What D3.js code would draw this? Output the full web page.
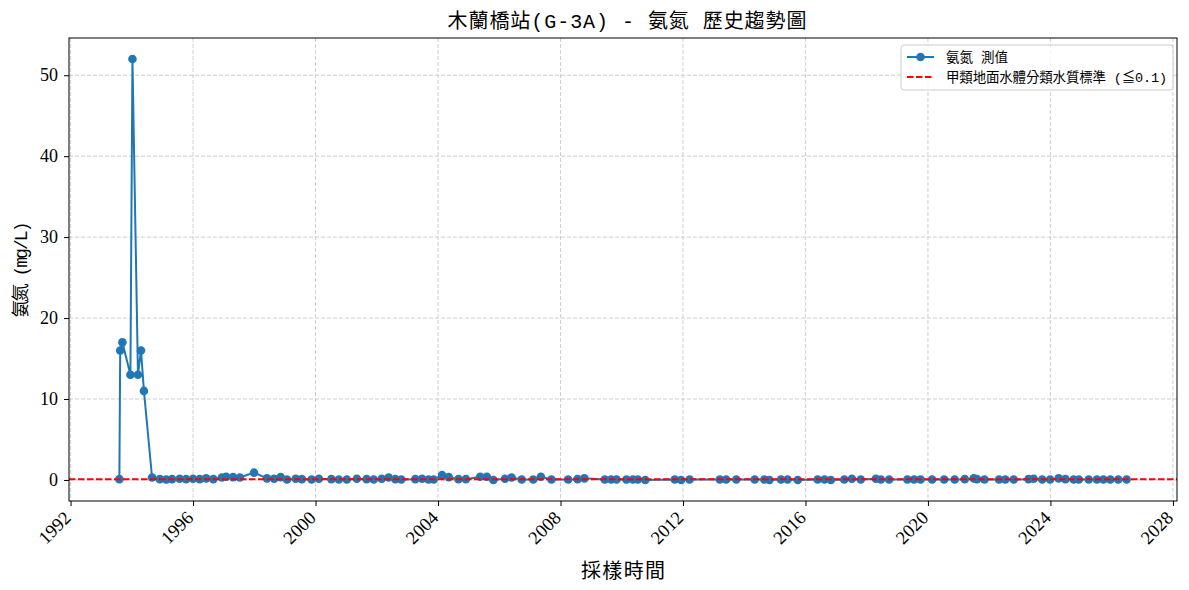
<!DOCTYPE html>
<html>
<head>
<meta charset="utf-8">
<script src="https://cdnjs.cloudflare.com/ajax/libs/d3/7.8.5/d3.min.js"></script>
<style>
  body { margin: 0; background: #fff; }
  svg { font-family: "Liberation Serif", "Noto Sans CJK TC", serif; }
  .cjk { font-family: "Liberation Mono", "Noto Sans CJK TC", monospace; }
</style>
</head>
<body>
<div id="chart"></div>
<script>
// Sampling dates and ammonia readings (mg/L)
const sampleDates = [
    "1993-08-05", "1993-08-15", "1993-09-10", "1993-12-15", "1994-01-08", "1994-03-15", "1994-04-20", "1994-05-25",
    "1994-08-30", "1994-12-01", "1995-02-15", "1995-04-25", "1995-07-25", "1995-10-10", "1996-01-01", "1996-03-20",
    "1996-06-05", "1996-08-30", "1996-12-10", "1997-01-30", "1997-04-22", "1997-07-12", "1997-12-28", "1998-06-01",
    "1998-08-25", "1998-11-10", "1999-01-25", "1999-05-10", "1999-07-22", "1999-11-15", "2000-02-10", "2000-07-08",
    "2000-10-05", "2001-01-08", "2001-05-08", "2001-09-01", "2001-11-25", "2002-03-01", "2002-05-22", "2002-08-10",
    "2002-10-20", "2003-04-05", "2003-06-25", "2003-09-10", "2003-11-10", "2004-02-18", "2004-05-08", "2004-09-01",
    "2004-11-28", "2005-05-18", "2005-08-05", "2005-10-22", "2006-03-10", "2006-05-28", "2006-09-25", "2007-02-10",
    "2007-05-12", "2007-09-15", "2008-04-01", "2008-07-22", "2008-10-12", "2009-06-12", "2009-08-28", "2009-10-30",
    "2010-02-25", "2010-05-15", "2010-07-12", "2010-10-08", "2011-09-25", "2011-12-10", "2012-03-20", "2013-03-15",
    "2013-05-30", "2013-09-28", "2014-05-05", "2014-08-28", "2014-10-28", "2015-03-15", "2015-06-02", "2015-10-01",
    "2016-05-25", "2016-08-15", "2016-10-30", "2017-04-08", "2017-07-08", "2017-10-22", "2018-04-20", "2018-06-18",
    "2018-09-25", "2019-05-01", "2019-07-20", "2019-10-05", "2020-02-20", "2020-07-12", "2020-11-15", "2021-03-15",
    "2021-07-01", "2021-08-08", "2021-11-05", "2022-04-28", "2022-07-12", "2022-10-20", "2023-04-15", "2023-06-15",
    "2023-09-25", "2023-12-28", "2024-04-08", "2024-06-28", "2024-10-05", "2024-12-05", "2025-04-01", "2025-07-08",
    "2025-09-25", "2025-12-15", "2026-03-20", "2026-06-28"
];
const ammoniaValues = [
    0.1, 16, 17, 13, 52, 13, 16, 11,
    0.3, 0.1, 0.05, 0.1, 0.15, 0.1, 0.15, 0.1,
    0.2, 0.1, 0.3, 0.4, 0.35, 0.3, 0.9, 0.2,
    0.15, 0.35, 0.05, 0.15, 0.1, 0.05, 0.15, 0.1,
    0.05, 0.05, 0.15, 0.1, 0.05, 0.15, 0.3, 0.1,
    0.05, 0.1, 0.15, 0.05, 0.05, 0.6, 0.35, 0.1,
    0.1, 0.4, 0.4, 0.0, 0.15, 0.3, 0.05, 0.05,
    0.4, 0.05, 0.05, 0.1, 0.2, 0.05, 0.05, 0.05,
    0.05, 0.05, 0.05, 0.0, 0.05, 0.0, 0.05, 0.05,
    0.05, 0.05, 0.05, 0.05, 0.0, 0.05, 0.05, 0.0,
    0.05, 0.05, 0.0, 0.05, 0.15, 0.05, 0.15, 0.05,
    0.05, 0.05, 0.05, 0.05, 0.05, 0.05, 0.05, 0.1,
    0.2, 0.1, 0.05, 0.05, 0.05, 0.05, 0.1, 0.15,
    0.05, 0.05, 0.2, 0.1, 0.05, 0.05, 0.05, 0.05,
    0.05, 0.05, 0.05, 0.05
];
const standardLimit = 0.1;
const yTickValues = [0, 10, 20, 30, 40, 50];

const chartTitle = "木蘭橋站(G-3A) - 氨氮 歷史趨勢圖";
const xLabel = "採樣時間";
const yLabel = "氨氮 (mg/L)";
const legendLabels = ["氨氮 測值", "甲類地面水體分類水質標準 (≦0.1)"];

function drawChart(containerWidth, containerHeight) {
    const blue = "#1f77b4";
    let parseDate = d3.timeParse("%Y-%m-%d");
    let data = sampleDates.map((d, i) => [parseDate(d), ammoniaValues[i]]);

    let svg = d3.select("#chart")
        .append("svg")
        .attr("width", containerWidth)
        .attr("height", containerHeight);

    let margin = { top: 38, left: 69, bottom: 89, right: 12 };
    let width = containerWidth - margin.left - margin.right;
    let height = containerHeight - margin.top - margin.bottom;

    let g = svg.append("g")
        .attr("transform", `translate(${margin.left}, ${margin.top})`);

    // Matplotlib-style 5% padding around the data
    let [minX, maxX] = d3.extent(data, d => d[0]);
    let padX = (maxX - minX) * 0.05;
    let maxY = d3.max(data, d => d[1]);
    let minY = d3.min(data, d => d[1]);
    let padY = (maxY - minY) * 0.05;

    let xScale = d3.scaleTime()
        .domain([new Date(+minX - padX), new Date(+maxX + padX)])
        .range([0, width]);
    let yScale = d3.scaleLinear()
        .domain([minY - padY, maxY + padY])
        .range([height, 0]);

    let xTicks = xScale.ticks(d3.timeYear.every(4));

    /* Grid */
    g.append("g")
        .selectAll("line")
        .data(xTicks)
        .enter()
        .append("line")
        .attr("x1", d => xScale(d)).attr("x2", d => xScale(d))
        .attr("y1", 0).attr("y2", height)
        .attr("stroke", "#c8c8c8")
        .attr("stroke-width", 0.9)
        .attr("stroke-dasharray", "4,2");
    g.append("g")
        .selectAll("line")
        .data(yTickValues)
        .enter()
        .append("line")
        .attr("x1", 0).attr("x2", width)
        .attr("y1", d => yScale(d)).attr("y2", d => yScale(d))
        .attr("stroke", "#c8c8c8")
        .attr("stroke-width", 0.9)
        .attr("stroke-dasharray", "4,2");

    /* Axes */
    let xAxis = g.append("g")
        .attr("transform", `translate(0, ${height})`)
        .call(d3.axisBottom(xScale).tickValues(xTicks).tickSize(5).tickFormat(d3.timeFormat("%Y")));
    xAxis.select(".domain").remove();
    xAxis.selectAll("text")
        .attr("font-size", 18.5)
        .attr("font-family", "Liberation Serif, serif")
        .attr("fill", "#000")
        .attr("text-anchor", "end")
        .attr("dy", null)
        .attr("y", 0)
        .attr("transform", "translate(1, 18) rotate(-45)");

    let yAxis = g.append("g")
        .call(d3.axisLeft(yScale).tickValues(yTickValues).tickSize(5));
    yAxis.select(".domain").remove();
    yAxis.selectAll("text")
        .attr("font-size", 18)
        .attr("font-family", "Liberation Serif, serif")
        .attr("fill", "#000")
        .attr("x", -11);

    /* Line and markers */
    let line = d3.line()
        .x(d => xScale(d[0]))
        .y(d => yScale(d[1]));

    g.append("path")
        .datum(data)
        .attr("d", line)
        .attr("fill", "none")
        .attr("stroke", blue)
        .attr("stroke-width", 2);

    g.selectAll(".dot")
        .data(data)
        .enter()
        .append("circle")
        .attr("class", "dot")
        .attr("cx", d => xScale(d[0]))
        .attr("cy", d => yScale(d[1]))
        .attr("r", 4.3)
        .attr("fill", blue);

    /* Standard limit */
    g.append("line")
        .attr("x1", 0).attr("x2", width)
        .attr("y1", yScale(standardLimit)).attr("y2", yScale(standardLimit))
        .attr("stroke", "red")
        .attr("stroke-width", 2)
        .attr("stroke-dasharray", "6.5,2.5");

    /* Frame */
    g.append("rect")
        .attr("width", width)
        .attr("height", height)
        .attr("fill", "none")
        .attr("stroke", "#000")
        .attr("stroke-width", 1);

    /* Labels */
    svg.append("text")
        .attr("class", "cjk")
        .attr("x", margin.left + width / 2 + 4)
        .attr("y", 28)
        .attr("text-anchor", "middle")
        .attr("font-size", 20)
        .attr("textLength", 359)
        .attr("lengthAdjust", "spacing")
        .text(chartTitle);

    svg.append("text")
        .attr("class", "cjk")
        .attr("x", margin.left + width / 2)
        .attr("y", 578)
        .attr("text-anchor", "middle")
        .attr("font-size", 20)
        .attr("textLength", 84)
        .attr("lengthAdjust", "spacing")
        .text(xLabel);

    svg.append("text")
        .attr("class", "cjk")
        .attr("transform", `translate(27, ${margin.top + height / 2}) rotate(-90)`)
        .attr("text-anchor", "middle")
        .attr("font-size", 18)
        .attr("textLength", 96)
        .attr("lengthAdjust", "spacing")
        .text(yLabel);

    /* Legend */
    let legend = svg.append("g")
        .attr("transform", "translate(901, 45)");
    legend.append("rect")
        .attr("width", 272)
        .attr("height", 45)
        .attr("rx", 3)
        .attr("fill", "#fff")
        .attr("fill-opacity", 0.8)
        .attr("stroke", "#ccc");
    legend.append("line")
        .attr("x1", 6).attr("x2", 33).attr("y1", 12).attr("y2", 12)
        .attr("stroke", blue).attr("stroke-width", 2);
    legend.append("circle")
        .attr("cx", 19.5).attr("cy", 12).attr("r", 4.3)
        .attr("fill", blue);
    legend.append("line")
        .attr("x1", 6).attr("x2", 33).attr("y1", 32).attr("y2", 32)
        .attr("stroke", "red").attr("stroke-width", 2)
        .attr("stroke-dasharray", "6.5,2.5");
    let legendWidths = [62, 221];
    legend.selectAll(".legendText")
        .data(legendLabels)
        .enter()
        .append("text")
        .attr("class", "legendText cjk")
        .attr("x", 45)
        .attr("y", (d, i) => 16.5 + i * 20)
        .attr("font-size", 13.5)
        .attr("textLength", (d, i) => legendWidths[i])
        .attr("lengthAdjust", "spacing")
        .text(d => d);
}

drawChart(1189, 590);
</script>
</body>
</html>
